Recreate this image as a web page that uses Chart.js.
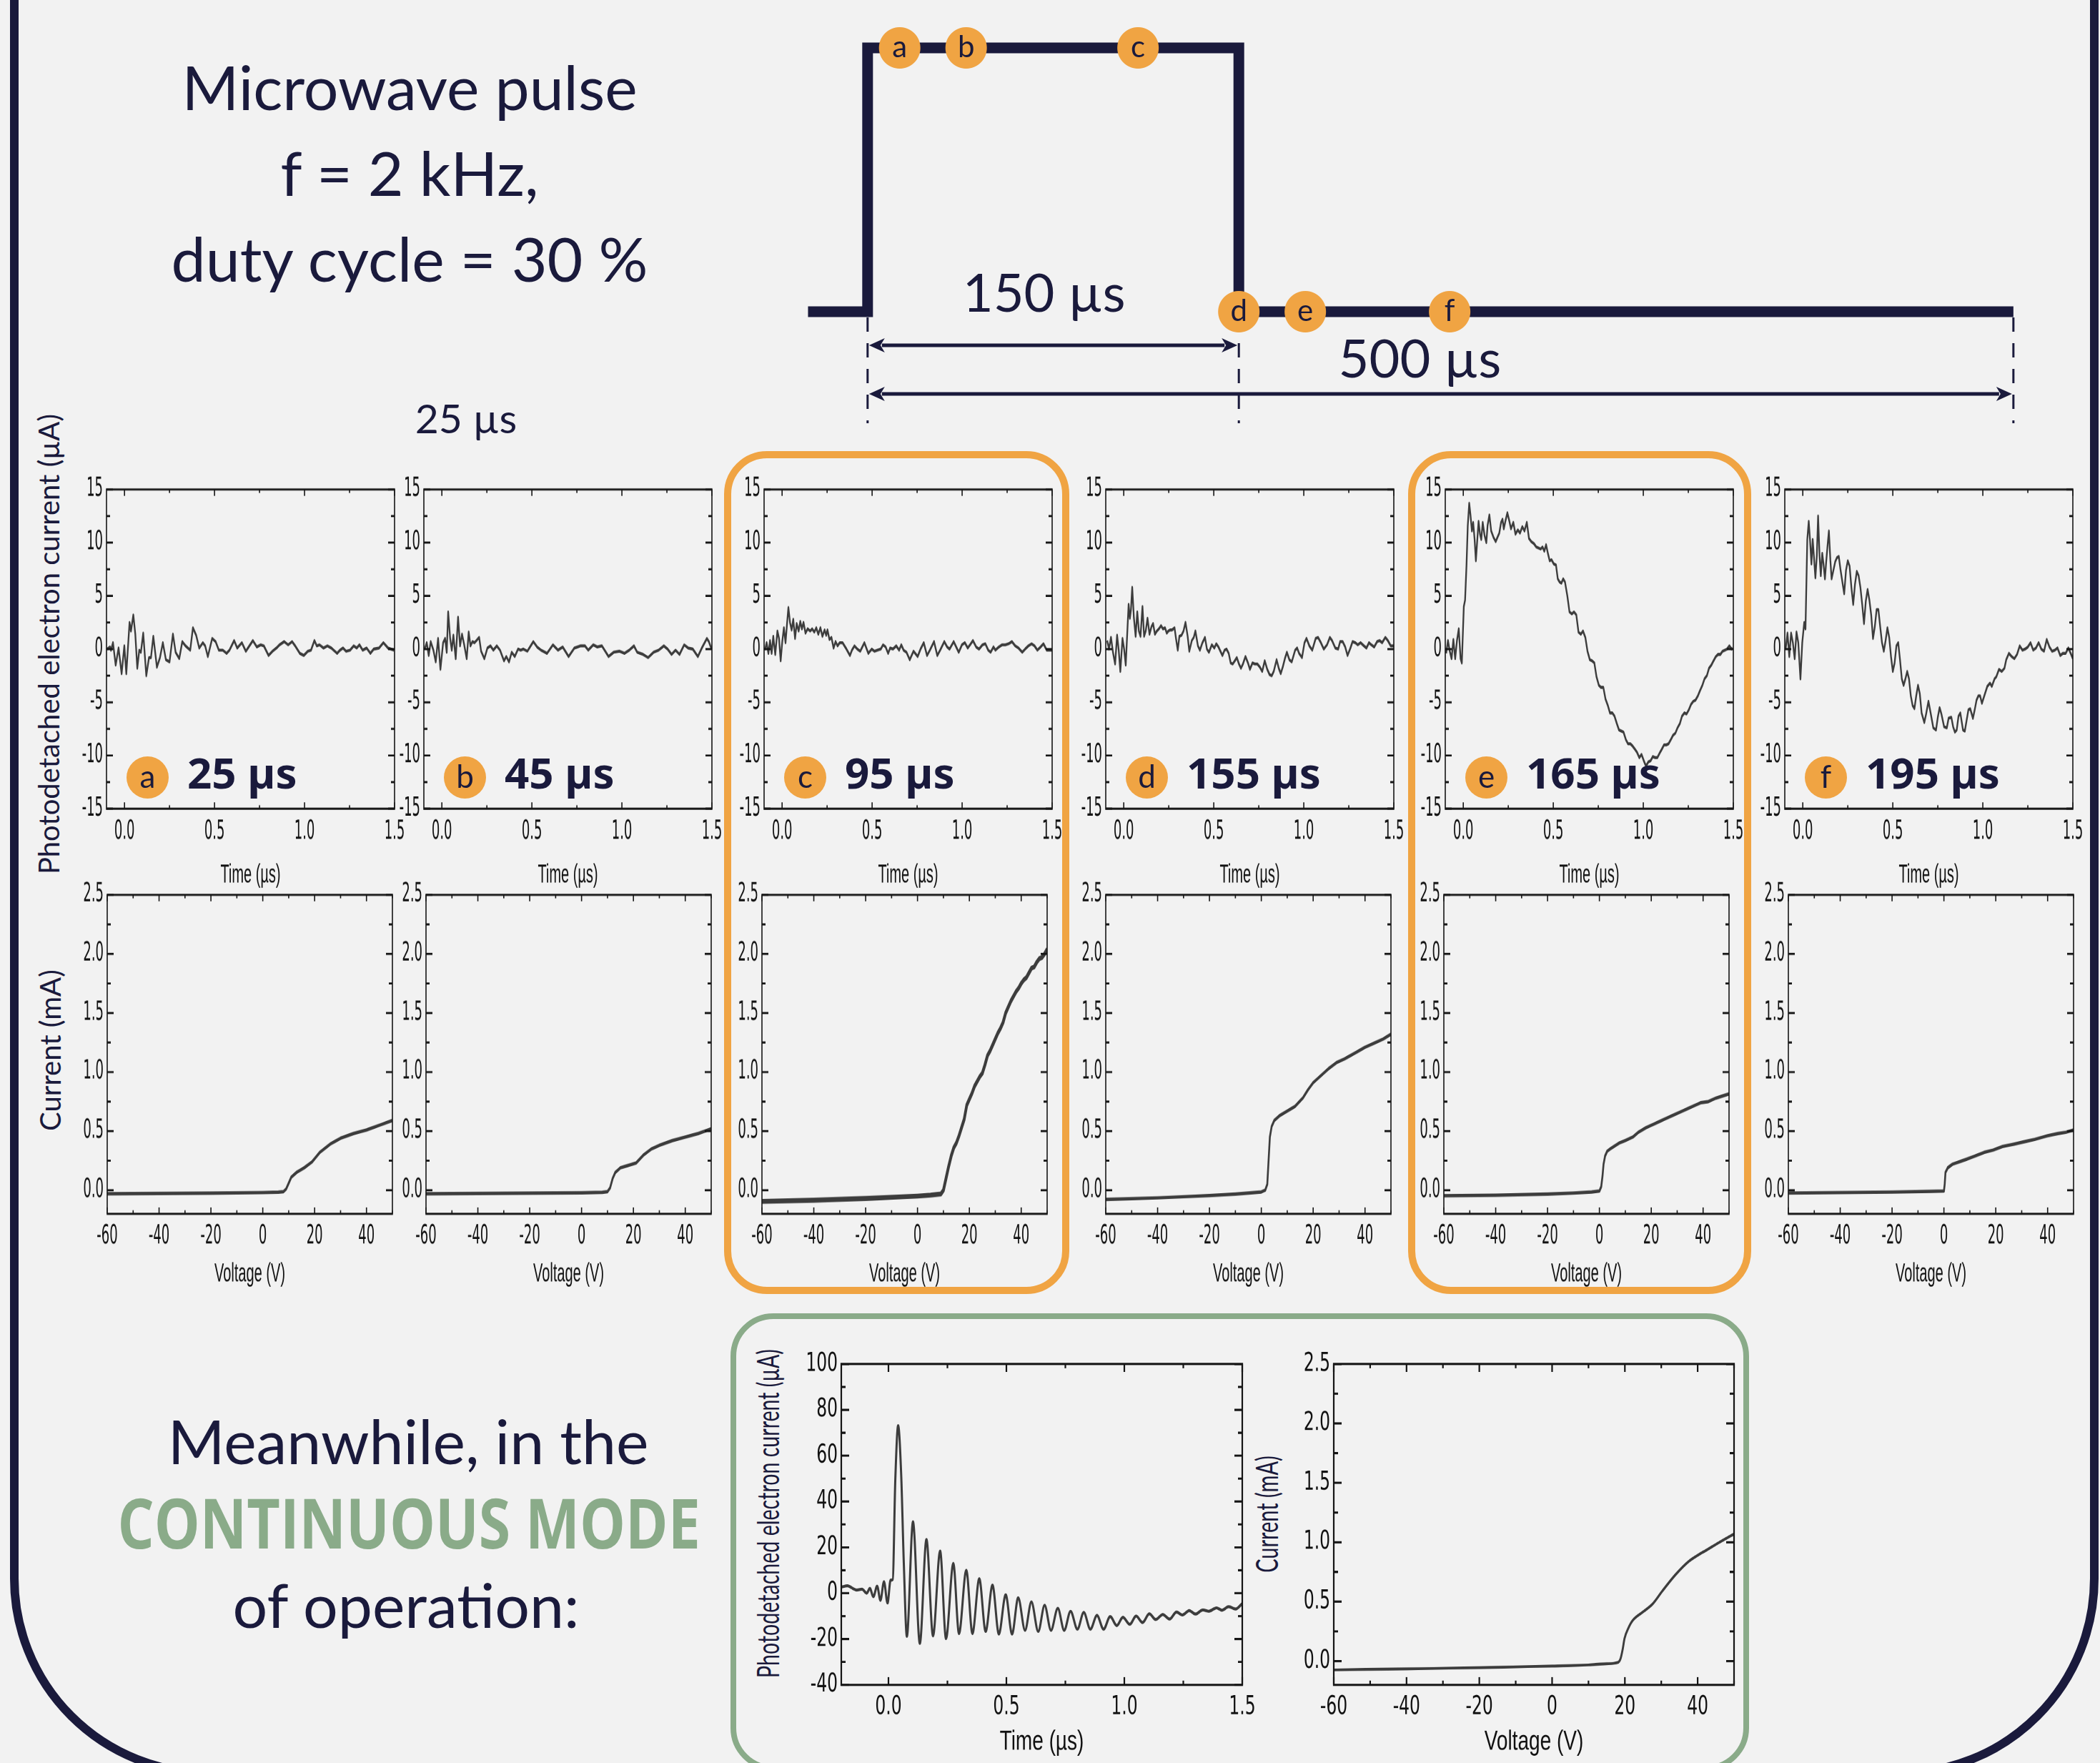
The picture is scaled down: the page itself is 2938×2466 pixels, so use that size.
<!DOCTYPE html>
<html>
<head>
<meta charset="utf-8">
<script src="https://cdn.jsdelivr.net/npm/chart.js@4.4.1/dist/chart.umd.min.js"></script>
<style>
html,body{margin:0;padding:0;}
body{width:2938px;height:2466px;background:#f2f2f2;position:relative;overflow:hidden;font-family:Lato,"Open Sans",sans-serif;color:#1a1a3c;}
.abs{position:absolute;white-space:nowrap;}
.wrap{position:absolute;transform-origin:0 0;}
.head{font-family:Lato,"Open Sans",sans-serif;font-size:86px;line-height:120px;text-align:center;}
.rot{position:absolute;white-space:nowrap;font-family:Lato,"Open Sans",sans-serif;line-height:1.2;}
.circ{position:absolute;border-radius:50%;background:#f0a443;display:flex;align-items:center;justify-content:center;font-family:Lato,"Open Sans",sans-serif;color:#1a1a3c;line-height:1;}
.big{position:absolute;white-space:nowrap;font-family:"Noto Sans","Open Sans",sans-serif;font-weight:700;font-size:60px;line-height:72px;color:#1a1a3c;}
.box{position:absolute;box-sizing:border-box;}
</style>
</head>
<body>

<!-- outer frame -->
<div class="box" style="left:14px;top:-100px;width:2922px;height:2586px;border:12px solid #1a1a3c;border-radius:0 0 278px 278px;"></div>

<!-- highlight boxes -->
<div class="box" style="left:1013px;top:631px;width:483px;height:1179px;border:10px solid #f0a443;border-radius:60px;"></div>
<div class="box" style="left:1970px;top:631px;width:480px;height:1179px;border:10px solid #f0a443;border-radius:60px;"></div>
<div class="box" style="left:1022px;top:1837px;width:1425px;height:640px;border:8px solid #8aab89;border-radius:60px;"></div>

<!-- headline texts -->
<div class="abs head" style="left:173px;width:800px;top:61px;">Microwave pulse<br>f = 2 kHz,<br>duty cycle = 30 %</div>
<div class="abs" style="left:552px;width:200px;text-align:center;top:550px;font-size:57px;line-height:68px;">25 µs</div>

<div class="abs head" style="left:171px;width:800px;top:1955px;">Meanwhile, in the</div>
<div class="abs" style="left:72px;width:1000px;text-align:center;top:2070px;font-family:'Open Sans','Noto Sans',sans-serif;font-weight:700;font-size:97px;line-height:116px;color:#8aab89;"><span style="display:inline-block;transform:scaleX(0.83);transform-origin:50% 50%;">CONTINUOUS MODE</span></div>
<div class="abs head" style="left:168px;width:800px;top:2184px;">of operation:</div>

<!-- rotated axis labels -->
<div class="rot" style="left:68px;top:901px;font-size:40px;transform:translate(-50%,-50%) rotate(-90deg);">Photodetached electron current (µA)</div>
<div class="rot" style="left:70px;top:1469px;font-size:40px;transform:translate(-50%,-50%) rotate(-90deg);">Current (mA)</div>
<div class="rot" style="left:1074px;top:2117px;font-size:42px;transform:translate(-50%,-50%) rotate(-90deg) scaleX(0.68);">Photodetached electron current (µA)</div>
<div class="rot" style="left:1772px;top:2118px;font-size:42px;transform:translate(-50%,-50%) rotate(-90deg) scaleX(0.69);">Current (mA)</div>

<script>
// ---------------- DATA ----------------
const panelLetters = ['a','b','c','d','e','f'];
const panelDelays = [25, 45, 95, 155, 165, 195];   // µs after pulse start

// microwave pulse schematic (µs, level) and sampling markers
const pulseT = [-26, 0, 0, 162, 162, 500];
const pulseLevel = [0, 0, 1, 1, 0, 0];
const markerT = [14, 43, 118, 162, 191, 254];
const markerLevel = [1, 1, 1, 0, 0, 0];

// tick labels
const timeXTicks = [0.0, 0.5, 1.0, 1.5];
const timeYTicks = [-15, -10, -5, 0, 5, 10, 15];
const ivXTicks = [-60, -40, -20, 0, 20, 40];
const ivYTicks = [0.0, 0.5, 1.0, 1.5, 2.0, 2.5];
const contYTicks = [-40, -20, 0, 20, 40, 60, 80, 100];

// photodetached electron current traces (time in µs, current in µA)
const timeA_t = [-0.096,-0.081,-0.075,-0.064,-0.049,-0.033,-0.016,-0.001,0.010,0.028,0.036,0.049,0.060,0.071,0.082,0.091,0.104,0.121,0.136,0.147,0.160,0.180,0.197,0.213,0.230,0.250,0.269,0.284,0.304,0.321,0.339,0.365,0.380,0.398,0.415,0.435,0.448,0.463,0.487,0.506,0.524,0.546,0.567,0.583,0.609,0.626,0.652,0.674,0.713,0.735,0.757,0.774,0.800,0.822,0.844,0.861,0.887,0.909,0.931,0.948,0.974,0.996,1.018,1.036,1.055,1.068,1.083,1.105,1.127,1.149,1.181,1.197,1.214,1.231,1.253,1.273,1.290,1.305,1.323,1.345,1.366,1.384,1.414,1.438,1.464,1.497];
const timeA_v = [0.0,0.2,-0.1,0.6,-1.5,0.1,-2.3,0.3,-2.3,2.5,1.7,3.2,1.4,-1.8,-0.1,-0.3,1.5,-2.5,-0.8,-0.8,1.2,-1.7,-0.8,0.6,-1.0,-1.2,1.4,-0.3,-0.9,0.7,0.3,-0.1,2.0,1.3,0.1,0.6,0.3,-0.7,1.0,0.7,-0.1,-0.1,-0.4,-0.1,0.8,0.1,0.6,-0.2,0.8,0.2,0.4,0.3,-0.6,-0.2,0.1,0.4,0.7,0.4,0.7,0.3,-0.4,-0.6,-0.2,-0.1,0.8,0.3,0.4,0.1,0.3,0.1,-0.4,-0.1,0.1,-0.2,-0.1,0.3,0.1,0.4,-0.1,0.1,-0.4,0.0,0.1,0.6,0.1,-0.1];

const timeB_t = [-0.095,-0.084,-0.073,-0.062,-0.047,-0.034,-0.021,-0.008,0.007,0.018,0.027,0.035,0.046,0.055,0.064,0.077,0.090,0.101,0.112,0.123,0.138,0.149,0.159,0.170,0.181,0.192,0.207,0.218,0.236,0.253,0.270,0.286,0.305,0.323,0.345,0.358,0.373,0.388,0.405,0.423,0.438,0.453,0.475,0.508,0.529,0.551,0.584,0.617,0.645,0.671,0.704,0.736,0.769,0.795,0.813,0.841,0.863,0.889,0.926,0.954,0.987,1.015,1.041,1.067,1.085,1.117,1.146,1.176,1.204,1.233,1.254,1.276,1.298,1.320,1.346,1.368,1.394,1.422,1.444,1.472,1.483,1.498];
const timeB_v = [0.0,0.6,-0.6,0.7,-0.1,-1.2,1.0,-1.9,0.6,1.0,-0.3,3.5,1.0,-0.1,1.3,-0.9,3.0,0.3,1.4,0.5,-0.9,1.6,0.3,0.7,0.6,0.8,1.1,-0.2,-0.9,0.1,0.3,-0.1,0.3,-0.1,-1.1,-0.7,-1.2,-0.3,-0.7,0.0,-0.1,0.0,-0.2,0.7,0.2,-0.1,-0.4,0.4,-0.1,0.2,-0.7,0.1,0.3,0.3,-0.1,0.4,0.2,0.3,-0.7,-0.3,-0.2,-0.4,-0.1,0.3,-0.3,-0.5,-0.8,-0.3,-0.1,0.3,0.0,-0.5,-0.1,-0.5,0.4,0.1,0.0,-0.7,0.1,1.0,0.7,0.0];

const timeC_t = [-0.095,-0.086,-0.076,-0.067,-0.058,-0.049,-0.038,-0.026,-0.017,-0.008,0.001,0.010,0.019,0.028,0.035,0.044,0.053,0.062,0.072,0.081,0.092,0.101,0.110,0.119,0.130,0.142,0.156,0.167,0.179,0.190,0.201,0.213,0.224,0.236,0.245,0.252,0.263,0.274,0.286,0.297,0.308,0.320,0.336,0.354,0.377,0.388,0.402,0.418,0.434,0.457,0.479,0.498,0.513,0.529,0.548,0.561,0.575,0.589,0.600,0.616,0.634,0.650,0.662,0.675,0.691,0.709,0.730,0.753,0.769,0.787,0.805,0.821,0.844,0.862,0.878,0.901,0.917,0.930,0.953,0.981,0.999,1.015,1.031,1.044,1.060,1.078,1.094,1.113,1.129,1.145,1.158,1.174,1.185,1.204,1.222,1.240,1.258,1.277,1.295,1.313,1.334,1.350,1.368,1.386,1.402,1.418,1.436,1.452,1.470,1.486,1.498];
const timeC_v = [-0.1,0.6,-0.4,0.8,-0.4,1.2,-0.5,1.7,1.0,-1.1,0.7,2.0,0.6,2.5,3.9,2.5,1.8,2.8,1.0,2.4,1.7,2.6,1.9,2.5,1.5,1.9,1.7,1.9,1.6,2.0,1.4,2.0,1.2,1.8,1.3,1.8,0.9,1.1,0.1,0.7,0.3,0.6,0.6,0.1,-0.6,-0.1,0.3,0.0,-0.2,0.6,-0.4,0.0,-0.2,-0.1,0.0,0.4,0.2,-0.4,0.1,0.0,0.3,-0.1,0.4,-0.1,-0.3,-1.0,-0.2,-0.7,0.0,0.6,-0.6,-0.1,0.7,-0.6,-0.1,0.7,0.2,0.0,0.7,-0.3,0.4,0.6,0.1,0.4,0.8,0.2,0.0,0.4,0.5,-0.1,-0.3,0.2,-0.1,0.2,0.4,0.4,0.5,0.7,0.3,0.1,-0.3,0.0,0.3,0.5,0.3,-0.1,0.2,0.5,-0.1,-0.1,-0.1];

const timeD_t = [-0.092,-0.082,-0.071,-0.060,-0.048,-0.037,-0.028,-0.019,-0.007,0.002,0.011,0.020,0.027,0.034,0.040,0.047,0.056,0.066,0.075,0.084,0.093,0.104,0.113,0.122,0.132,0.143,0.154,0.163,0.173,0.184,0.195,0.207,0.218,0.229,0.239,0.248,0.257,0.268,0.282,0.291,0.300,0.309,0.321,0.332,0.343,0.355,0.364,0.378,0.389,0.398,0.412,0.423,0.437,0.451,0.462,0.473,0.489,0.503,0.514,0.526,0.537,0.548,0.560,0.571,0.583,0.594,0.605,0.617,0.628,0.640,0.651,0.662,0.676,0.690,0.701,0.715,0.728,0.742,0.756,0.769,0.783,0.797,0.810,0.822,0.833,0.849,0.861,0.872,0.883,0.895,0.906,0.920,0.933,0.952,0.963,0.974,0.990,1.004,1.015,1.031,1.047,1.066,1.079,1.095,1.111,1.129,1.145,1.157,1.175,1.191,1.202,1.216,1.230,1.243,1.259,1.271,1.286,1.300,1.316,1.334,1.348,1.362,1.375,1.391,1.407,1.421,1.435,1.453,1.467,1.483,1.498];
const timeD_v = [0.8,0.0,1.1,-0.3,-1.4,1.3,-0.1,-2.1,1.0,0.0,-1.5,1.7,4.2,2.9,3.7,5.8,3.0,1.2,3.5,1.7,1.2,4.0,1.2,1.7,2.9,1.4,2.1,2.4,1.4,1.7,1.9,2.2,1.9,2.0,1.5,1.7,1.8,1.8,2.0,0.9,-0.1,1.2,1.3,1.7,2.5,1.2,-0.2,0.8,1.1,1.7,0.3,-0.1,0.6,1.1,0.0,-0.3,0.4,0.1,0.5,0.2,-0.2,-0.6,-0.1,0.0,-0.4,-1.3,-1.4,-1.1,-0.8,-1.4,-1.8,-1.4,-0.7,-1.3,-1.9,-1.3,-1.4,-1.4,-1.7,-2.1,-1.1,-1.9,-2.4,-2.5,-2.1,-1.0,-1.8,-2.3,-1.7,-0.9,-0.3,-1.0,-1.2,-0.1,0.1,-0.4,-0.8,0.6,1.0,0.3,-0.1,1.0,1.1,0.6,0.0,0.4,1.1,0.8,0.1,0.0,0.7,0.7,0.2,-0.6,0.1,0.7,0.6,0.4,0.6,0.3,0.1,0.6,0.4,0.2,0.7,0.8,0.6,1.1,0.8,0.3,0.3];

const timeE_t = [-0.095,-0.085,-0.075,-0.065,-0.055,-0.045,-0.035,-0.025,-0.015,-0.008,0.003,0.010,0.018,0.025,0.033,0.040,0.048,0.055,0.063,0.070,0.078,0.085,0.093,0.100,0.108,0.118,0.128,0.135,0.145,0.155,0.168,0.180,0.190,0.200,0.210,0.218,0.225,0.235,0.245,0.255,0.265,0.278,0.290,0.303,0.315,0.328,0.340,0.353,0.365,0.378,0.393,0.405,0.418,0.430,0.440,0.450,0.460,0.470,0.480,0.490,0.503,0.515,0.525,0.535,0.545,0.555,0.565,0.578,0.590,0.603,0.615,0.628,0.640,0.653,0.665,0.678,0.690,0.703,0.715,0.728,0.740,0.753,0.765,0.778,0.790,0.803,0.815,0.828,0.840,0.853,0.865,0.878,0.890,0.903,0.915,0.928,0.940,0.953,0.965,0.978,0.990,1.003,1.015,1.028,1.040,1.053,1.065,1.078,1.090,1.103,1.115,1.128,1.140,1.153,1.165,1.178,1.190,1.203,1.215,1.228,1.240,1.253,1.265,1.278,1.290,1.303,1.315,1.328,1.340,1.353,1.365,1.378,1.390,1.403,1.415,1.428,1.440,1.453,1.465,1.478,1.490,1.495];
const timeE_v = [-0.4,0.8,-0.2,-0.9,0.9,-0.9,0.8,1.9,-0.9,-1.3,4.0,4.6,7.9,11.6,13.7,12.6,11.1,11.9,10.3,8.3,10.3,12.0,10.8,10.3,11.9,10.7,10.0,11.6,12.6,11.1,10.5,10.1,10.5,10.9,11.9,12.2,11.3,12.1,12.8,12.1,11.3,11.9,10.8,11.2,10.9,11.5,11.1,11.9,10.4,10.1,9.9,9.6,9.5,9.4,9.6,9.2,9.8,9.0,8.3,8.4,8.0,7.9,6.6,6.3,6.2,6.6,6.3,5.0,3.5,3.3,3.5,3.2,1.6,1.4,1.7,1.1,-0.2,-1.0,-1.1,-1.3,-2.6,-3.4,-3.6,-3.6,-4.7,-5.3,-6.0,-6.0,-6.3,-7.0,-7.6,-7.7,-7.8,-8.5,-8.9,-8.9,-9.1,-9.4,-9.7,-10.2,-9.9,-10.5,-11.0,-10.6,-10.5,-10.1,-10.2,-10.2,-9.8,-9.4,-9.0,-9.0,-8.9,-8.5,-8.1,-7.9,-7.4,-7.0,-6.3,-6.0,-6.1,-5.7,-5.2,-4.9,-4.8,-4.4,-3.9,-3.4,-2.8,-2.5,-1.8,-1.5,-1.1,-0.7,-0.5,-0.5,-0.2,-0.1,0.0,0.3,0.0,0.1];

const timeF_t = [-0.095,-0.085,-0.075,-0.065,-0.055,-0.045,-0.035,-0.025,-0.013,-0.003,0.008,0.015,0.025,0.033,0.040,0.048,0.055,0.063,0.070,0.078,0.085,0.093,0.100,0.108,0.115,0.123,0.130,0.138,0.145,0.153,0.160,0.170,0.180,0.190,0.200,0.210,0.220,0.230,0.240,0.250,0.260,0.270,0.280,0.290,0.300,0.310,0.320,0.330,0.340,0.350,0.360,0.370,0.380,0.390,0.400,0.410,0.420,0.430,0.440,0.450,0.460,0.470,0.480,0.490,0.500,0.510,0.520,0.530,0.540,0.550,0.560,0.570,0.580,0.590,0.600,0.610,0.620,0.630,0.640,0.650,0.660,0.675,0.685,0.698,0.710,0.725,0.740,0.750,0.760,0.770,0.785,0.800,0.810,0.825,0.835,0.845,0.855,0.865,0.875,0.890,0.900,0.910,0.920,0.930,0.945,0.955,0.965,0.975,0.985,0.995,1.010,1.025,1.040,1.050,1.065,1.075,1.090,1.105,1.120,1.130,1.145,1.160,1.175,1.190,1.205,1.220,1.235,1.250,1.265,1.280,1.295,1.310,1.325,1.340,1.355,1.370,1.385,1.400,1.415,1.430,1.445,1.460,1.475,1.488,1.500];
const timeF_v = [0.0,1.5,-0.7,1.5,0.6,-0.9,1.6,0.6,-2.8,0.6,2.5,1.9,10.3,12.0,10.3,8.0,10.3,8.4,6.7,8.8,12.5,8.8,6.9,9.0,8.0,6.6,8.2,9.8,11.1,8.4,6.6,7.4,8.2,8.6,8.7,7.4,6.3,5.2,7.4,8.3,7.8,5.8,4.2,6.1,7.3,6.9,5.8,4.2,2.4,4.5,5.6,4.6,3.2,1.0,2.1,3.7,3.7,2.1,0.6,-0.2,0.8,2.0,1.1,-0.7,-2.1,-1.3,0.3,0.6,-1.0,-2.8,-3.4,-2.8,-2.1,-2.8,-4.4,-5.3,-5.6,-4.4,-3.4,-4.2,-6.0,-6.9,-6.1,-4.9,-6.0,-7.4,-7.6,-6.4,-5.5,-6.1,-7.3,-7.4,-6.5,-6.4,-7.3,-7.8,-7.6,-6.3,-6.0,-7.6,-7.7,-6.7,-5.7,-5.6,-6.5,-5.7,-4.8,-4.4,-4.4,-5.1,-4.3,-3.5,-3.2,-3.5,-2.8,-2.6,-1.9,-2.1,-1.8,-1.0,-0.4,-0.7,-0.9,-0.5,0.3,-0.1,0.0,0.2,0.6,-0.1,0.1,0.6,0.0,-0.2,0.9,0.2,-0.2,-0.1,0.1,-0.6,-0.4,-0.4,0.1,-0.4,-0.9];

// Langmuir probe I-V curves (voltage in V, current in mA)
const ivA_V = [-60,-40,-20,0,6,8,9,10,11,13,16,19,22,26,30,35,40,45,50];
const ivA_I = [-0.030,-0.028,-0.025,-0.020,-0.017,-0.012,0.010,0.060,0.110,0.150,0.190,0.240,0.320,0.390,0.440,0.480,0.510,0.550,0.590];
const ivB_V = [-60,-40,-20,0,8,10,11,12,13,15,18,21,24,27,30,35,40,45,50];
const ivB_I = [-0.030,-0.028,-0.025,-0.022,-0.018,-0.012,0.020,0.100,0.150,0.190,0.210,0.230,0.300,0.350,0.380,0.420,0.450,0.480,0.520];
const ivC_V = [-60,-40,-20,0,5,9,10,11,12,13,14,15,16,17,18,19,20,21,22,23,24,25,26,27,28,29,30,31,32,33,34,35,36,37,38,39,40,41,42,43,44,45,46,47,48,49,50];
const ivC_I = [-0.095,-0.085,-0.070,-0.050,-0.042,-0.032,0.000,0.100,0.200,0.290,0.360,0.400,0.460,0.530,0.600,0.720,0.770,0.820,0.880,0.920,0.960,0.990,1.060,1.140,1.180,1.230,1.280,1.330,1.370,1.420,1.500,1.550,1.600,1.640,1.680,1.710,1.750,1.780,1.800,1.840,1.880,1.890,1.930,1.960,1.970,2.000,2.040];
const ivD_V = [-60,-40,-20,-10,0,1.5,2.3,2.8,3.3,4,5,7,10,13,16,18,20,23,26,29,32,36,40,44,47,50];
const ivD_I = [-0.078,-0.065,-0.045,-0.033,-0.015,0.000,0.050,0.250,0.450,0.540,0.590,0.630,0.670,0.710,0.780,0.850,0.910,0.970,1.030,1.080,1.110,1.160,1.210,1.250,1.280,1.320];
const ivE_V = [-60,-40,-20,-10,-3,0,0.7,1.2,1.6,2.2,3,4.2,7.7,10,12.9,15,18,21,25,28,32,35,39,42,45,50];
const ivE_I = [-0.047,-0.042,-0.033,-0.024,-0.015,-0.007,0.030,0.120,0.220,0.290,0.330,0.350,0.400,0.420,0.450,0.490,0.530,0.560,0.600,0.630,0.670,0.700,0.740,0.750,0.780,0.815];
const ivF_V = [-60,-40,-20,-5,0,0.3,0.6,1.5,3.3,8.5,12,15.5,19,22.6,27,31,35,39.8,44,47,50];
const ivF_I = [-0.024,-0.020,-0.016,-0.010,-0.007,0.050,0.150,0.190,0.220,0.260,0.290,0.320,0.340,0.370,0.390,0.410,0.430,0.460,0.480,0.490,0.510];

// continuous mode
const contT = [-0.2,-0.174,-0.135,-0.112,-0.092,-0.079,-0.064,-0.048,-0.034,-0.019,-0.004,0.009,0.018,0.029,0.041,0.054,0.065,0.078,0.104,0.133,0.161,0.189,0.219,0.244,0.275,0.299,0.330,0.356,0.385,0.412,0.441,0.468,0.497,0.524,0.550,0.579,0.606,0.635,0.662,0.689,0.718,0.745,0.772,0.801,0.828,0.856,0.884,0.912,0.940,0.968,0.994,1.023,1.050,1.077,1.106,1.133,1.163,1.192,1.221,1.246,1.275,1.302,1.333,1.358,1.391,1.414,1.442,1.472,1.5];
const contV = [2.7,3.2,1.4,1.7,0.0,2.1,-1.5,3.1,-3.1,5.0,-4.3,5.7,6.0,49.5,73.1,51.6,13.3,-18.8,31.1,-21.9,23.4,-18.6,18.4,-19.8,13.0,-17.6,10.0,-17.6,6.3,-16.7,3.5,-17.8,-0.7,-17.8,-2.0,-16.2,-3.8,-16.7,-5.3,-16.2,-6.6,-16.2,-7.9,-15.7,-8.4,-15.7,-9.7,-15.7,-10.2,-14.1,-10.5,-13.6,-10.0,-12.8,-9.0,-11.5,-9.3,-11.3,-8.2,-9.5,-7.6,-9.1,-7.3,-7.9,-6.4,-7.4,-5.9,-6.9,-4.5];
const contIV_V = [-60,-40,-20,0,10,15,18,18.8,19.4,19.9,21,22.1,24.8,27.6,30.3,34,37.6,40,42.2,46,50];
const contIV_I = [-0.074,-0.065,-0.055,-0.042,-0.032,-0.022,-0.012,0.020,0.100,0.190,0.280,0.340,0.410,0.480,0.590,0.730,0.840,0.890,0.930,1.000,1.070];

// ---------------- RENDERING ----------------
const NAVY = '#1a1a3c', ORANGE = '#f0a443', TRACE = '#3c3c3c', AXIS = '#151515';
const COND = '"DejaVu Sans Condensed","Liberation Sans Narrow",sans-serif';
const SANS = '"Liberation Sans",Arial,sans-serif';

const frameTicks = {
  id: 'frameTicks',
  afterDatasetsDraw(chart, args, o) {
    const {ctx, chartArea: a, scales: {x, y}} = chart;
    const s = o.s;
    ctx.save();
    ctx.strokeStyle = AXIS;
    ctx.lineWidth = o.tickW;
    ctx.beginPath();
    const xt = (v, len) => { const p = x.getPixelForValue(v); ctx.moveTo(p, a.bottom); ctx.lineTo(p, a.bottom - len / s); ctx.moveTo(p, a.top); ctx.lineTo(p, a.top + len / s); };
    const yt = (v, len) => { const p = y.getPixelForValue(v); ctx.moveTo(a.left, p); ctx.lineTo(a.left + len, p); ctx.moveTo(a.right, p); ctx.lineTo(a.right - len, p); };
    for (let k = Math.ceil(x.min / o.xMinor - 1e-6); k * o.xMinor <= x.max + 1e-9; k++) xt(k * o.xMinor, o.minorLen);
    for (let k = Math.ceil(y.min / o.yMinor - 1e-6); k * o.yMinor <= y.max + 1e-9; k++) yt(k * o.yMinor, o.minorLen);
    x.ticks.forEach(t => xt(t.value, o.majorLen));
    y.ticks.forEach(t => yt(t.value, o.majorLen));
    ctx.stroke();
    ctx.lineWidth = o.frameW;
    ctx.strokeRect(a.left, a.top, a.width, a.height);
    ctx.restore();
  }
};

function makePlot(c) {
  const wrap = document.createElement('div');
  wrap.className = 'wrap';
  const W = c.yW + c.w + c.padRight;
  const H = c.padTop + c.h / c.s + c.xH;
  wrap.style.left = (c.left - c.yW) + 'px';
  wrap.style.top = (c.top - c.padTop * c.s) + 'px';
  wrap.style.width = W + 'px';
  wrap.style.height = H + 'px';
  if (c.s !== 1) wrap.style.transform = 'scaleY(' + c.s + ')';
  const cv = document.createElement('canvas');
  wrap.appendChild(cv);
  document.body.appendChild(wrap);
  const ds = {
    data: c.xs.map((v, i) => ({x: v, y: c.ys[i]})),
    borderColor: TRACE, borderWidth: c.lineW, pointRadius: 0, fill: false,
    tension: 0, borderJoinStyle: 'round'
  };
  if (c.smooth) ds.cubicInterpolationMode = 'monotone';
  return new Chart(cv, {
    type: 'line',
    data: {datasets: [ds]},
    options: {
      responsive: true, maintainAspectRatio: false, animation: false, devicePixelRatio: 2,
      layout: {autoPadding: false, padding: {top: c.padTop, right: c.padRight, left: 0, bottom: 0}},
      plugins: {legend: {display: false}, tooltip: {enabled: false},
        frameTicks: {s: c.s, xMinor: c.xMinor, yMinor: c.yMinor, majorLen: c.majorLen, minorLen: c.minorLen, tickW: c.tickW, frameW: c.frameW}},
      scales: {
        x: {type: 'linear', min: c.xMin, max: c.xMax,
          grid: {display: false, drawTicks: false}, border: {display: false},
          afterBuildTicks: sc => { sc.ticks = c.xTicks.map(v => ({value: v})); },
          afterFit: sc => { sc.height = c.xH; },
          ticks: {autoSkip: false, maxRotation: 0, minRotation: 0, padding: c.xPad, color: '#111',
            font: {family: COND, size: c.tickSize}, callback: c.xFmt},
          title: {display: true, text: c.xTitle, color: '#111', font: {family: SANS, size: c.titleSize}, padding: {top: 0, bottom: 0}}
        },
        y: {type: 'linear', min: c.yMin, max: c.yMax,
          grid: {display: false, drawTicks: false}, border: {display: false},
          afterBuildTicks: sc => { sc.ticks = c.yTicks.map(v => ({value: v})); },
          afterFit: sc => { sc.width = c.yW; },
          ticks: {autoSkip: false, padding: 5, color: '#111', font: {family: COND, size: c.tickSize}, callback: c.yFmt}
        }
      }
    },
    plugins: [frameTicks]
  });
}

const fmt1 = v => Number(v).toFixed(1);
const fmt0 = v => String(v);

const timeSeries = [[timeA_t, timeA_v], [timeB_t, timeB_v], [timeC_t, timeC_v], [timeD_t, timeD_v], [timeE_t, timeE_v], [timeF_t, timeF_v]];
const ivSeries = [[ivA_V, ivA_I], [ivB_V, ivB_I], [ivC_V, ivC_I], [ivD_V, ivD_I], [ivE_V, ivE_I], [ivF_V, ivF_I]];
const timeLeft = [149, 593, 1069, 1547, 2022, 2497];
const ivLeft = [150, 596, 1066, 1547, 2020, 2502];

timeSeries.forEach(([xs, ys], i) => {
  makePlot({left: timeLeft[i], top: 679, w: 403, h: 452, s: 1.8, yW: 60, padTop: 14, padRight: 22, xH: 64,
    xMin: -0.1, xMax: 1.5, yMin: -15, yMax: 15, xTicks: timeXTicks, yTicks: timeYTicks, xMinor: 0.25, yMinor: 2.5,
    xFmt: fmt1, yFmt: fmt0, xTitle: 'Time (µs)', tickSize: 20, titleSize: 20, xPad: 6,
    majorLen: 9, minorLen: 5, tickW: 1.6, frameW: 1.6, lineW: 2.3, xs, ys});
});
ivSeries.forEach(([xs, ys], i) => {
  makePlot({left: ivLeft[i], top: 1246, w: 399, h: 451, s: 1.8, yW: 60, padTop: 14, padRight: 22, xH: 59,
    xMin: -60, xMax: 50, yMin: -0.2, yMax: 2.5, xTicks: ivXTicks, yTicks: ivYTicks, xMinor: 10, yMinor: 0.25,
    xFmt: fmt0, yFmt: fmt1, xTitle: 'Voltage (V)', tickSize: 20, titleSize: 20, xPad: 6,
    majorLen: 9, minorLen: 5, tickW: 1.6, frameW: 1.6, lineW: i === 2 ? 3.8 : 2.6, xs, ys});
});
makePlot({left: 1177, top: 1904, w: 561, h: 452, s: 1.4, yW: 60, padTop: 18, padRight: 32, xH: 74,
  xMin: -0.2, xMax: 1.5, yMin: -40, yMax: 100, xTicks: timeXTicks, yTicks: contYTicks, xMinor: 0.25, yMinor: 10,
  xFmt: fmt1, yFmt: fmt0, xTitle: 'Time (µs)', tickSize: 26, titleSize: 28, xPad: 7,
  majorLen: 11, minorLen: 6, tickW: 2.2, frameW: 2.2, lineW: 3.0, smooth: true, xs: contT, ys: contV});
makePlot({left: 1866, top: 1904, w: 560, h: 452, s: 1.4, yW: 60, padTop: 18, padRight: 32, xH: 74,
  xMin: -60, xMax: 50, yMin: -0.2, yMax: 2.5, xTicks: ivXTicks, yTicks: ivYTicks, xMinor: 10, yMinor: 0.25,
  xFmt: fmt0, yFmt: fmt1, xTitle: 'Voltage (V)', tickSize: 26, titleSize: 28, xPad: 7,
  majorLen: 11, minorLen: 6, tickW: 2.2, frameW: 2.2, lineW: 2.8, smooth: true, xs: contIV_V, ys: contIV_I});

// in-plot labels (letter + delay)
timeLeft.forEach((L, i) => {
  const c = document.createElement('div');
  c.className = 'circ';
  c.style.cssText += `left:${L + 28}px;top:1058px;width:59px;height:59px;font-size:44px;`;
  c.innerHTML = `<span style="position:relative;top:-3px">${panelLetters[i]}</span>`;
  document.body.appendChild(c);
  const t = document.createElement('div');
  t.className = 'big';
  t.style.left = (L + 113) + 'px';
  t.style.top = '1044px';
  t.textContent = panelDelays[i] + ' µs';
  document.body.appendChild(t);
});

// ---------------- pulse schematic ----------------
const pulseDims = {
  id: 'pulseDims',
  beforeDatasetsDraw(chart) {
    const {ctx, scales: {x, y}} = chart;
    const base = y.getPixelForValue(0);
    ctx.save();
    ctx.strokeStyle = NAVY;
    ctx.lineWidth = 3;
    ctx.setLineDash([20, 16]);
    [pulseT[1], pulseT[3], pulseT[5]].forEach(t => {
      const p = x.getPixelForValue(t);
      ctx.beginPath(); ctx.moveTo(p, base + 8); ctx.lineTo(p, base + 156); ctx.stroke();
    });
    ctx.restore();
  },
  afterDatasetsDraw(chart) {
    const {ctx, scales: {x, y}} = chart;
    const base = y.getPixelForValue(0);
    ctx.save();
    ctx.strokeStyle = NAVY; ctx.fillStyle = NAVY; ctx.lineWidth = 5;
    const arrow = (t0, t1, dy) => {
      const p0 = x.getPixelForValue(t0), p1 = x.getPixelForValue(t1), yy = base + dy, hl = 24, hw = 10;
      ctx.beginPath(); ctx.moveTo(p0 + hl - 4, yy); ctx.lineTo(p1 - hl + 4, yy); ctx.stroke();
      ctx.beginPath(); ctx.moveTo(p0 + 2, yy); ctx.lineTo(p0 + hl, yy - hw); ctx.lineTo(p0 + hl - 6, yy); ctx.lineTo(p0 + hl, yy + hw); ctx.closePath(); ctx.fill();
      ctx.beginPath(); ctx.moveTo(p1 - 2, yy); ctx.lineTo(p1 - hl, yy - hw); ctx.lineTo(p1 - hl + 6, yy); ctx.lineTo(p1 - hl, yy + hw); ctx.closePath(); ctx.fill();
    };
    arrow(pulseT[1], pulseT[3], 47);
    arrow(pulseT[1], pulseT[5], 115);
    ctx.restore();
  }
};

(function () {
  const wrap = document.createElement('div');
  wrap.className = 'wrap';
  wrap.style.cssText += 'left:1100px;top:0px;width:1780px;height:620px;';
  const cv = document.createElement('canvas');
  wrap.appendChild(cv);
  document.body.appendChild(wrap);
  const chart = new Chart(cv, {
    type: 'line',
    data: {datasets: [
      {data: markerT.map((t, i) => ({x: t, y: markerLevel[i]})), showLine: false, pointRadius: 29,
        pointBackgroundColor: ORANGE, pointBorderWidth: 0, order: 0},
      {data: pulseT.map((t, i) => ({x: t, y: pulseLevel[i]})), borderColor: NAVY, borderWidth: 15, pointRadius: 0,
        tension: 0, borderJoinStyle: 'miter', borderCapStyle: 'butt', fill: false, order: 1}
    ]},
    options: {
      responsive: true, maintainAspectRatio: false, animation: false, devicePixelRatio: 2,
      layout: {autoPadding: false, padding: 0},
      plugins: {legend: {display: false}, tooltip: {enabled: false}},
      scales: {x: {type: 'linear', display: false, min: -35.5, max: 519.7},
               y: {type: 'linear', display: false, min: -0.4986, max: 1.1816}}
    },
    plugins: [pulseDims]
  });
  const xs = chart.scales.x, ys = chart.scales.y;
  markerT.forEach((t, i) => {
    const px = 1100 + xs.getPixelForValue(t), py = ys.getPixelForValue(markerLevel[i]);
    const s = document.createElement('div');
    s.className = 'abs';
    s.style.cssText += `left:${px - 30}px;top:${py - 30}px;width:60px;height:60px;display:flex;align-items:center;justify-content:center;font-size:42px;line-height:1;`;
    s.innerHTML = `<span style="position:relative;top:-3px">${panelLetters[i]}</span>`;
    document.body.appendChild(s);
  });
  const base = ys.getPixelForValue(0);
  const lab = (txt, t, baseline) => {
    const d = document.createElement('div');
    d.className = 'abs';
    const px = 1100 + xs.getPixelForValue(t);
    d.style.cssText += `left:${px - 150}px;width:300px;text-align:center;font-size:74px;line-height:89px;top:${baseline - 73}px;`;
    d.textContent = txt;
    document.body.appendChild(d);
  };
  lab('150 µs', 77, base);
  lab('500 µs', 241, base + 92);
})();
</script>
</body>
</html>
